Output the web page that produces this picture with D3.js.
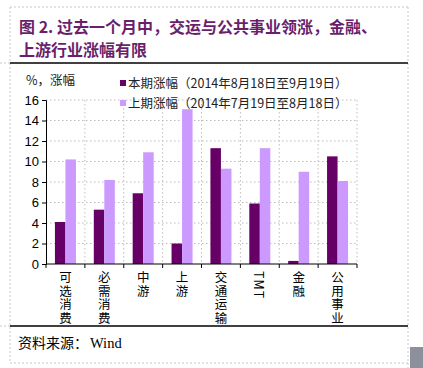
<!DOCTYPE html>
<html>
<head>
<meta charset="utf-8">
<script src="https://cdn.jsdelivr.net/npm/d3@7"></script>
<style>
  body { margin: 0; background: #fff; }
  svg { display: block; font-family: "Liberation Sans", Arial, "Noto Sans CJK SC", sans-serif; }
</style>
</head>
<body>
<div id="chart"></div>
<script>
// data
const categories = ["可选消费", "必需消费", "中游", "上游", "交通运输", "TMT", "金融", "公用事业"];
const current = [4.1, 5.3, 6.9, 2.0, 11.3, 5.9, 0.3, 10.5];
const previous = [10.2, 8.2, 10.9, 15.1, 9.3, 11.3, 9.0, 8.1];
const seriesNames = ["本期涨幅（2014年8月18日至9月19日）", "上期涨幅（2014年7月19日至8月18日）"];
const yTicks = [0, 2, 4, 6, 8, 10, 12, 14, 16];

const width = 423, height = 368;
const colors = ["#660066", "#cc99ff"];
const margin = { top: 100, left: 46, right: 66, bottom: 104 };

const svg = d3.select("#chart").append("svg")
    .attr("width", width)
    .attr("height", height);

// frame (dotted page borders)
const dotted = "#c8c8c8";
function dots(x1, y1, x2, y2) {
    svg.append("line").attr("x1", x1).attr("y1", y1).attr("x2", x2).attr("y2", y2)
        .attr("stroke", dotted).attr("stroke-dasharray", "2,2");
}
dots(10, 7, 10, 363);
dots(408, 7, 408, 368);
dots(10, 7, 408, 7);
dots(10, 363, 408, 363);
dots(0, 63, 10, 63);
dots(0, 326, 10, 326);

// little gray mark at bottom right corner
svg.append("rect").attr("x", 410).attr("y", 347).attr("width", 13).attr("height", 21).attr("fill", "#8b909a");

// title, two lines
const titleLines = ["图 2. 过去一个月中，交运与公共事业领涨，金融、", "上游行业涨幅有限"];
svg.selectAll(".title")
    .data(titleLines)
    .enter().append("text")
    .attr("x", 19)
    .attr("y", (d, i) => 33 + i * 23)
    .attr("fill", "#6b1f6b")
    .style("font-family", "'Noto Sans CJK SC', sans-serif")
    .style("font-weight", "bold")
    .style("font-size", "16px")
    .text(d => d);

svg.append("line").attr("x1", 10).attr("x2", 408).attr("y1", 63).attr("y2", 63)
    .attr("stroke", "#000").attr("stroke-width", 1.5);
svg.append("line").attr("x1", 10).attr("x2", 408).attr("y1", 326).attr("y2", 326)
    .attr("stroke", "#000").attr("stroke-width", 1.5);

svg.append("text")
    .attr("x", 18).attr("y", 348)
    .style("font-family", "'Noto Sans CJK SC', serif")
    .style("font-size", "14px")
    .text("资料来源：");
svg.append("text")
    .attr("x", 90).attr("y", 348)
    .style("font-family", "'Liberation Serif', serif")
    .style("font-size", "14.5px")
    .text("Wind");

// scales
const x = d3.scaleBand()
    .domain(categories)
    .range([margin.left, width - margin.right]);
const y = d3.scaleLinear()
    .domain([0, 16])
    .range([height - margin.bottom, margin.top]);
const inner = d3.scaleBand()
    .domain([0, 1])
    .range([0, x.bandwidth()])
    .paddingOuter(0.85)
    .paddingInner(0);

const g = svg.append("g");

// gridlines
g.selectAll(".hgrid")
    .data(yTicks.slice(1))
    .enter().append("line")
    .attr("x1", margin.left).attr("x2", width - margin.right)
    .attr("y1", d => y(d)).attr("y2", d => y(d))
    .attr("stroke", "#bdbdbd").attr("stroke-dasharray", "1.5,2.5");
g.selectAll(".vgrid")
    .data(d3.range(1, categories.length + 1))
    .enter().append("line")
    .attr("x1", i => margin.left + x.step() * i)
    .attr("x2", i => margin.left + x.step() * i)
    .attr("y1", y(16)).attr("y2", y(0))
    .attr("stroke", "#bdbdbd").attr("stroke-dasharray", "1.5,2.5");

// bars
[current, previous].forEach((vals, s) => {
    g.append("g").selectAll("rect")
        .data(vals)
        .enter().append("rect")
        .attr("x", (d, i) => x(categories[i]) + inner(s))
        .attr("width", inner.bandwidth())
        .attr("y", d => y(d))
        .attr("height", d => y(0) - y(d))
        .attr("fill", colors[s]);
});

// y axis
const yAxis = g.append("g")
    .attr("transform", `translate(${margin.left},0)`)
    .call(d3.axisLeft(y).tickValues(yTicks).tickSize(4).tickPadding(3));
yAxis.selectAll("text").style("font-size", "13px").attr("fill", "#000");
yAxis.selectAll("line, path").attr("stroke", "#000");

// x axis line + ticks at category boundaries
g.append("line")
    .attr("x1", margin.left).attr("x2", width - margin.right)
    .attr("y1", y(0)).attr("y2", y(0))
    .attr("stroke", "#000");
g.selectAll(".xtick")
    .data(d3.range(categories.length + 1))
    .enter().append("line")
    .attr("x1", i => margin.left + x.step() * i)
    .attr("x2", i => margin.left + x.step() * i)
    .attr("y1", y(0)).attr("y2", y(0) + 4)
    .attr("stroke", "#000");

// category labels, written top to bottom
g.selectAll(".xlabel")
    .data(categories)
    .enter().append("text")
    .attr("x", d => x(d) + x.bandwidth() / 2)
    .attr("y", y(0) + 7)
    .style("writing-mode", "vertical-rl")
    .style("font-family", "'Noto Sans CJK SC', sans-serif")
    .style("font-size", "12.5px")
    .style("letter-spacing", "1.1px")
    .text(d => d);

// unit label
svg.append("text")
    .attr("x", 26).attr("y", 85)
    .style("font-family", "'Noto Sans CJK SC', sans-serif")
    .style("font-size", "12.5px")
    .attr("fill", "#222")
    .text("%，涨幅");

// legend
const legend = svg.append("g");
seriesNames.forEach((name, i) => {
    legend.append("rect")
        .attr("x", 120).attr("y", 80 + i * 20)
        .attr("width", 6).attr("height", 6)
        .attr("fill", colors[i]);
    legend.append("text")
        .attr("x", 128).attr("y", 88 + i * 20)
        .style("font-family", "'Noto Sans CJK SC', sans-serif")
        .style("font-size", "12.5px")
        .attr("fill", "#222")
        .text(name);
});
</script>
</body>
</html>
